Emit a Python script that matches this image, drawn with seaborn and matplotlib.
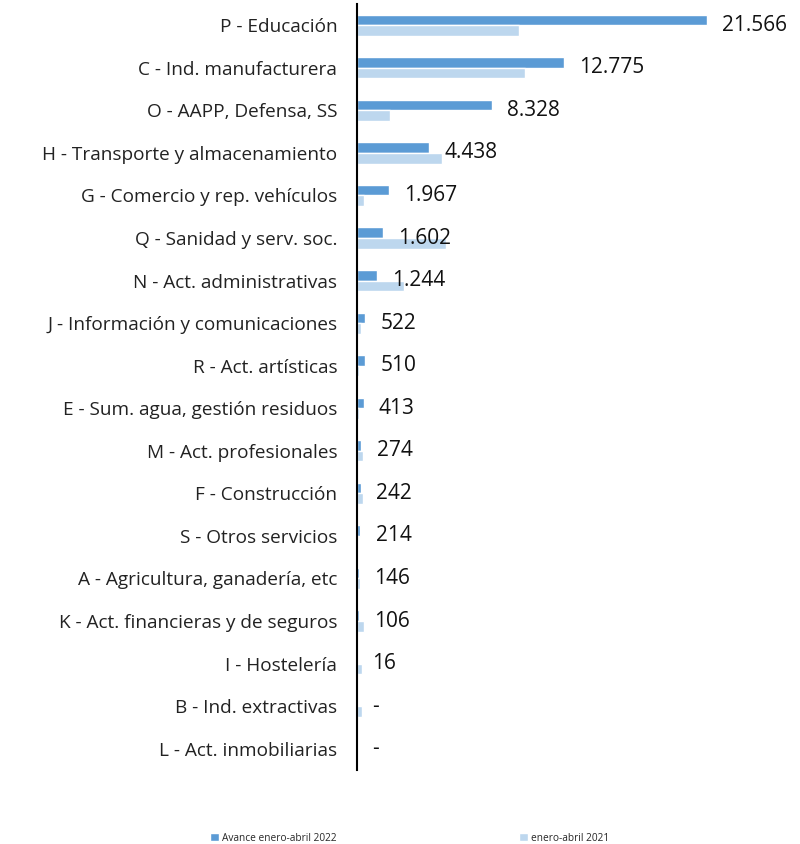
import pandas as pd
import numpy as np
import matplotlib
matplotlib.use("Agg")
import matplotlib.pyplot as plt
import seaborn as sns

# datos: afiliados por sector (enero-abril)
sectores = [
    "P - Educación", "C - Ind. manufacturera", "O - AAPP, Defensa, SS",
    "H - Transporte y almacenamiento", "G - Comercio y rep. vehículos",
    "Q - Sanidad y serv. soc.", "N - Act. administrativas",
    "J - Información y comunicaciones", "R - Act. artísticas",
    "E - Sum. agua, gestión residuos", "M - Act. profesionales",
    "F - Construcción", "S - Otros servicios", "A - Agricultura, ganadería, etc",
    "K - Act. financieras y de seguros", "I - Hostelería",
    "B - Ind. extractivas", "L - Act. inmobiliarias",
]
avance_2022 = [21566, 12775, 8328, 4438, 1967, 1602, 1244, 522, 510, 413,
               274, 242, 214, 146, 106, 16, 0, 0]
periodo_2021 = [9980, 10350, 2030, 5240, 430, 5480, 2900, 250, 120, 120,
                400, 400, 100, 180, 430, 300, 300, 0]
series = ["Avance enero-abril 2022", "enero-abril 2021"]
colores = ["#5B9BD5", "#BDD7EE"]

df = pd.DataFrame({
    "sector": sectores * 2,
    "valor": avance_2022 + periodo_2021,
    "serie": [series[0]] * len(sectores) + [series[1]] * len(sectores),
})

sns.set_theme(style="white")
plt.rcParams["font.family"] = ["Open Sans", "DejaVu Sans"]

fig = plt.figure(figsize=(8, 8.44), dpi=100)
ax = fig.add_axes([0.446, 0.0877, 0.54, 0.9076])

sns.barplot(data=df, y="sector", x="valor", hue="serie", order=sectores,
            hue_order=series, palette=colores, width=0.5, orient="h",
            saturation=1, ax=ax, legend=True)

ax.set_xlim(0, 26600)
ax.set_ylim(len(sectores) - 0.5, -0.5)
ax.set_xlabel("")
ax.set_ylabel("")
ax.set_xticks([])
for s in ["top", "right", "bottom"]:
    ax.spines[s].set_visible(False)
ax.spines["left"].set_color("black")
ax.spines["left"].set_linewidth(1.5)
ax.tick_params(axis="y", length=0, labelsize=13.7, pad=14, colors="#222222")

# etiquetas con separador de miles
for i, v in enumerate(avance_2022):
    txt = f"{v:,}".replace(",", ".") if v > 0 else "-"
    ax.annotate(txt, xy=(v, i), xytext=(11, 0), textcoords="offset points",
                ha="left", va="center", fontsize=15, color="#111111")

handles, labels = ax.get_legend_handles_labels()
ax.get_legend().remove()
fig.legend(handles, labels, loc="center", bbox_to_anchor=(0.512, 0.007),
           ncol=2, frameon=False, fontsize=7.3, handlelength=0.9,
           handleheight=0.9, handletextpad=0.3, columnspacing=18)

fig.savefig("out.png", dpi=100)
